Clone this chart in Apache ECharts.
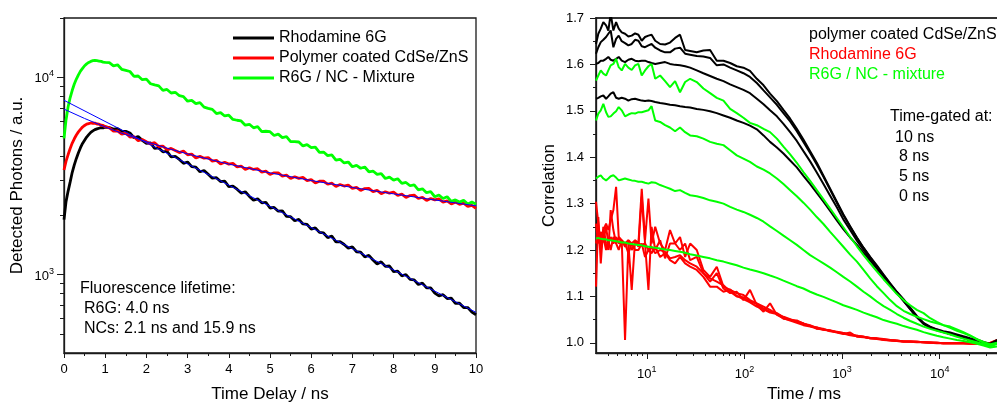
<!DOCTYPE html>
<html><head><meta charset="utf-8">
<script src="https://cdn.jsdelivr.net/npm/echarts@6/dist/echarts.min.js"></script>
<style>html,body{margin:0;padding:0;background:#fff}#c{width:997px;height:403px}</style>
</head><body><div id="c"></div>
<script>
const FONT = '"Liberation Sans", Arial, Helvetica, sans-serif';

// ---------- Left panel: fluorescence decay (counts vs ns) ----------
const decayTime = [0,0.05,0.1,0.15,0.2,0.25,0.3,0.35,0.4,0.45,0.5,0.55,0.6,0.65,0.7,0.75,0.8,0.85,0.9,0.95,1.0,
 1.1,1.2,1.3,1.4,1.5,1.6,1.7,1.8,1.9,2.0,2.1,2.2,2.3,2.4,2.5,2.6,2.7,2.8,2.9,3.0,
 3.1,3.2,3.3,3.4,3.5,3.6,3.7,3.8,3.9,4.0,4.1,4.2,4.3,4.4,4.5,4.6,4.7,4.8,4.9,5.0,
 5.1,5.2,5.3,5.4,5.5,5.6,5.7,5.8,5.9,6.0,6.1,6.2,6.3,6.4,6.5,6.6,6.7,6.8,6.9,7.0,
 7.1,7.2,7.3,7.4,7.5,7.6,7.7,7.8,7.9,8.0,8.1,8.2,8.3,8.4,8.5,8.6,8.7,8.8,8.9,9.0,
 9.1,9.2,9.3,9.4,9.5,9.6,9.7,9.8,9.9,10.0];
const rhodamine6G = [1900,2350,2650,2950,3300,3600,3880,4150,4400,4620,4800,4980,5120,5260,5350,5430,5480,5520,5560,5540,5600,
 5560,5470,5500,5330,5320,5220,4940,5010,4790,4630,4650,4360,4385,4190,4215,3950,3970,3835,3665,3720,
 3525,3505,3320,3370,3225,3080,3100,2960,2975,2790,2805,2710,2590,2630,2490,2380,2420,2310,2325,2175,
 2190,2095,2105,1970,1965,1875,1905,1805,1795,1700,1725,1635,1625,1540,1565,1465,1470,1420,1360,1380,
 1305,1300,1230,1250,1185,1130,1160,1100,1105,1035,1040,985,1000,945,940,890,905,855,855,805,
 780,790,755,760,715,715,680,680,645,625];
const polymerCdSe = [3390,3760,4060,4360,4640,4880,5100,5290,5450,5600,5700,5790,5830,5870,5850,5860,5800,5790,5720,5700,5620,
 5550,5340,5350,5155,5220,4980,5000,4770,4840,4715,4595,4665,4460,4485,4290,4360,4255,4155,4225,4050,
 4080,3905,3975,3890,3920,3760,3790,3640,3710,3630,3660,3515,3550,3410,3480,3410,3440,3310,3345,3215,
 3280,3280,3155,3190,3070,3135,3075,3110,2995,3030,2915,2975,2980,2870,2905,2795,2860,2810,2845,2735,
 2770,2670,2730,2735,2635,2670,2570,2630,2585,2615,2520,2555,2460,2515,2525,2430,2465,2375,2430,2390,
 2420,2330,2365,2280,2330,2270,2300,2215,2245,2165];
const mixture = [4900,6100,7100,7900,8600,9250,9800,10300,10750,11100,11450,11700,11900,12050,12150,12200,12150,12100,12050,11950,11900,
 11870,11430,11580,10990,10850,10710,10110,10160,9730,9790,9280,9150,9050,8590,8680,8330,8400,8070,7980,7570,
 7650,7360,7450,7060,6960,6880,6550,6620,6370,6430,6120,6060,6010,5720,5780,5550,5620,5300,5330,5300,
 5070,5150,4950,5000,4720,4720,4700,4490,4560,4400,4430,4160,4180,4010,4040,3800,3840,3680,3720,3520,
 3580,3460,3510,3320,3350,3220,3250,3070,3120,3010,3060,2900,2930,2820,2850,2690,2720,2600,2630,2480,
 2530,2430,2480,2350,2390,2330,2380,2280,2330,2270];
const fitR6GTime = [0, 10];
const fitR6G = [7650, 643];
const fitNCTime = [0,0.5,1,1.5,2,2.5,3,4,5,6,7,8,9,10];
const fitNC = [6900,6187,5602,5118,4715,4377,4089,3631,3279,2998,2765,2565,2389,2231];
const decayYRange = [400, 20000];
const decayYMajor = [1000, 10000];
const decayYMinor = [500,600,700,800,900,2000,3000,4000,5000,6000,7000,8000,9000,20000];
const decayLegend = ['Rhodamine 6G', 'Polymer coated CdSe/ZnS', 'R6G / NC - Mixture'];

// ---------- Right panel: correlation vs lag time (ms) ----------
const lagTime = [3.02,3.19,3.38,3.59,3.83,4.04,4.27,4.55,4.85,5.16,5.54,5.99,6.48,7.01,7.59,8.21,8.88,9.60,10.4,11.2,
 12.2,13.7,15.4,17.3,19.5,21.9,24.7,27.8,32.5,38.0,44.5,52.1,61.0,71.4,83.5,97.7,114,134,157,183,
 215,251,294,344,402,471,551,645,755,884,1030,1210,1420,1660,1940,2270,2660,3110,3640,4260,
 4990,5830,6830,7990,9350,10900,12800,15000,17500,20500,24000,28100,32900,38800];
const nc10ns = [1.644,1.666,1.677,1.691,1.684,1.673,1.709,1.673,1.691,1.677,1.669,1.666,1.660,1.662,1.667,1.664,1.651,1.659,1.662,1.664,
 1.651,1.644,1.643,1.647,1.657,1.664,1.631,1.629,1.626,1.630,1.631,1.608,1.608,1.603,1.596,1.593,1.586,1.569,1.555,1.537,
 1.521,1.502,1.483,1.461,1.438,1.413,1.388,1.360,1.332,1.304,1.277,1.251,1.227,1.205,1.185,1.167,1.147,1.128,1.110,1.094,
 1.076,1.058,1.043,1.035,1.029,1.025,1.022,1.018,1.014,1.010,1.007,1.002,0.998,1.006];
const nc8ns = [1.623,1.637,1.648,1.653,1.659,1.666,1.673,1.637,1.655,1.662,1.650,1.646,1.641,1.644,1.653,1.651,1.639,1.637,1.641,1.644,
 1.636,1.630,1.626,1.626,1.634,1.636,1.623,1.621,1.618,1.617,1.614,1.598,1.600,1.593,1.587,1.581,1.573,1.560,1.544,1.529,
 1.513,1.495,1.477,1.456,1.433,1.409,1.384,1.358,1.330,1.302,1.275,1.250,1.226,1.204,1.184,1.165,1.146,1.127,1.109,1.092,
 1.074,1.056,1.042,1.033,1.028,1.023,1.019,1.015,1.010,1.006,1.003,0.998,0.993,1.003];
const nc5ns = [1.601,1.603,1.608,1.608,1.612,1.616,1.610,1.608,1.612,1.616,1.608,1.605,1.610,1.612,1.608,1.607,1.608,1.608,1.605,1.603,
 1.601,1.603,1.605,1.601,1.599,1.598,1.596,1.593,1.587,1.581,1.575,1.569,1.564,1.557,1.551,1.545,1.538,1.526,1.514,1.501,
 1.488,1.472,1.454,1.435,1.413,1.391,1.367,1.342,1.317,1.292,1.266,1.243,1.220,1.200,1.181,1.162,1.144,1.125,1.107,1.091,
 1.073,1.056,1.041,1.033,1.028,1.023,1.019,1.015,1.010,1.006,1.002,0.997,0.993,1.003];
const nc0ns = [1.526,1.528,1.531,1.533,1.526,1.531,1.537,1.540,1.528,1.526,1.528,1.526,1.522,1.525,1.526,1.524,1.522,1.521,1.522,1.521,
 1.519,1.517,1.515,1.513,1.512,1.510,1.508,1.507,1.504,1.502,1.499,1.495,1.490,1.485,1.479,1.474,1.468,1.460,1.447,1.433,
 1.421,1.408,1.393,1.378,1.360,1.342,1.323,1.304,1.284,1.264,1.245,1.227,1.211,1.194,1.177,1.160,1.142,1.124,1.107,1.090,
 1.072,1.055,1.041,1.033,1.027,1.023,1.019,1.015,1.010,1.006,1.002,0.997,0.992,1.003];
const mix10ns = [1.565,1.576,1.587,1.580,1.576,1.587,1.598,1.601,1.612,1.594,1.587,1.601,1.593,1.588,1.598,1.601,1.576,1.587,1.596,1.601,
 1.569,1.576,1.564,1.551,1.564,1.540,1.562,1.569,1.562,1.548,1.538,1.528,1.522,1.504,1.495,1.485,1.474,1.469,1.461,1.454,
 1.440,1.423,1.406,1.388,1.368,1.349,1.329,1.309,1.289,1.269,1.249,1.228,1.208,1.189,1.171,1.154,1.137,1.121,1.105,1.092,
 1.081,1.071,1.064,1.053,1.045,1.038,1.032,1.026,1.021,1.015,1.008,1.002,0.997,1.000];
const mix8ns = [1.479,1.494,1.501,1.515,1.497,1.487,1.488,1.494,1.499,1.508,1.501,1.488,1.492,1.495,1.494,1.497,1.497,1.499,1.501,1.510,
 1.479,1.476,1.469,1.464,1.456,1.464,1.454,1.447,1.445,1.440,1.433,1.429,1.426,1.415,1.404,1.397,1.390,1.380,1.373,1.365,
 1.354,1.342,1.329,1.316,1.302,1.287,1.271,1.256,1.239,1.223,1.207,1.190,1.175,1.157,1.139,1.122,1.107,1.092,1.079,1.069,
 1.062,1.056,1.051,1.046,1.042,1.038,1.035,1.029,1.023,1.016,1.008,1.000,0.995,0.999];
const mix5ns = [1.354,1.358,1.361,1.354,1.350,1.354,1.359,1.361,1.356,1.350,1.352,1.354,1.352,1.350,1.349,1.347,1.347,1.345,1.343,1.346,
 1.345,1.340,1.336,1.332,1.327,1.329,1.323,1.318,1.316,1.312,1.307,1.304,1.300,1.293,1.287,1.282,1.276,1.269,1.261,1.251,
 1.241,1.231,1.221,1.211,1.200,1.189,1.180,1.171,1.162,1.152,1.142,1.132,1.121,1.110,1.100,1.089,1.079,1.071,1.062,1.054,
 1.047,1.041,1.035,1.030,1.026,1.022,1.018,1.013,1.009,1.005,1.001,0.997,0.992,0.998];
const mix0ns = [1.225,1.226,1.224,1.223,1.223,1.221,1.221,1.220,1.219,1.218,1.216,1.216,1.214,1.213,1.212,1.211,1.210,1.208,1.207,1.206,
 1.205,1.203,1.201,1.200,1.198,1.196,1.194,1.191,1.188,1.185,1.182,1.178,1.175,1.171,1.167,1.162,1.158,1.154,1.150,1.145,
 1.140,1.134,1.128,1.122,1.117,1.110,1.104,1.099,1.093,1.087,1.081,1.076,1.071,1.065,1.060,1.055,1.049,1.045,1.041,1.036,
 1.032,1.028,1.023,1.019,1.015,1.012,1.009,1.006,1.004,1.001,0.998,0.994,0.990,0.992];
const r6gA = [1.304,1.257,1.214,1.243,1.257,1.243,1.264,1.286,1.336,1.228,1.221,1.214,1.221,1.214,1.221,1.214,1.332,1.221,1.311,1.214,
 1.250,1.214,1.200,1.243,1.214,1.228,1.185,1.214,1.200,1.157,1.142,1.164,1.121,1.114,1.107,1.103,1.092,1.085,1.078,1.071,
 1.062,1.056,1.051,1.046,1.042,1.036,1.033,1.029,1.026,1.024,1.021,1.017,1.015,1.013,1.011,1.010,1.008,1.006,1.005,1.003,
 1.003,1.002,1.001,1.000,1.000,0.999,0.999,0.999,0.999,0.999,0.998,0.998,1.000,1.006];
const r6gB = [1.121,1.271,1.171,1.250,1.214,1.200,1.286,1.243,1.214,1.200,1.221,1.006,1.214,1.114,1.221,1.207,1.315,1.214,1.114,1.250,
 1.200,1.221,1.182,1.214,1.214,1.200,1.214,1.178,1.185,1.150,1.132,1.150,1.117,1.107,1.110,1.092,1.114,1.081,1.067,1.085,
 1.060,1.053,1.048,1.043,1.038,1.035,1.031,1.028,1.026,1.022,1.019,1.022,1.013,1.012,1.010,1.008,1.006,1.005,1.004,1.003,
 1.002,1.001,1.001,1.000,0.999,0.999,0.999,0.999,0.999,0.998,0.998,0.998,0.999,1.005];
const r6gC = [1.257,1.214,1.239,1.221,1.250,1.214,1.228,1.214,1.228,1.214,1.221,1.207,1.221,1.200,1.214,1.214,1.211,1.214,1.200,1.207,
 1.193,1.200,1.196,1.182,1.185,1.189,1.178,1.171,1.164,1.150,1.139,1.132,1.124,1.110,1.100,1.098,1.089,1.084,1.074,1.067,
 1.064,1.055,1.049,1.048,1.041,1.038,1.030,1.030,1.025,1.023,1.020,1.016,1.015,1.013,1.010,1.009,1.007,1.006,1.005,1.003,
 1.003,1.002,1.001,1.001,1.000,0.999,0.999,0.999,0.999,0.998,0.998,0.998,0.999,1.005];
const r6gD = [1.214,1.243,1.200,1.228,1.200,1.221,1.200,1.228,1.214,1.228,1.214,1.214,1.193,1.214,1.200,1.200,1.214,1.185,1.200,1.193,
 1.207,1.185,1.193,1.178,1.171,1.185,1.171,1.164,1.157,1.142,1.121,1.121,1.110,1.115,1.101,1.094,1.087,1.078,1.072,1.065,
 1.062,1.052,1.050,1.045,1.041,1.036,1.033,1.028,1.027,1.023,1.021,1.018,1.014,1.013,1.010,1.009,1.007,1.005,1.004,1.003,
 1.003,1.002,1.001,1.000,1.000,0.999,0.999,0.999,0.999,0.999,0.998,0.998,0.999,1.004];
const corrXRange = [3.02, 55000];
const corrYRange = [0.978, 1.7];
const corrXMajor = [10, 100, 1000, 10000];
const corrXMinor = [4,5,6,7,8,9,20,30,40,50,60,70,80,90,200,300,400,500,600,700,800,900,
 2000,3000,4000,5000,6000,7000,8000,9000,20000,30000,40000,50000];
const corrYMajor = [1.0,1.1,1.2,1.3,1.4,1.5,1.6,1.7];
const corrYMinor = [1.05,1.15,1.25,1.35,1.45,1.55,1.65];

// ---------- build ----------
const lg = Math.log10;
const pairsLogY = (xs, ys) => xs.map((x, i) => [x, lg(ys[i])]);
const pairsLogX = (xs, ys) => xs.map((x, i) => [lg(x), ys[i]]);
const AX = '#1a1a1a';
const pow10 = v => '{b|10}{s|' + Math.round(v) + '}';
const powRich = {
  b: {fontFamily: FONT, fontSize: 13, color: '#000', lineHeight: 16, verticalAlign: 'bottom'},
  s: {fontFamily: FONT, fontSize: 9, color: '#000', lineHeight: 16, verticalAlign: 'top', padding: [0, 0, 6, 0]}
};

function lineSeries(name, data, color, width, xi, yi, z) {
  return {type: 'line', name, data, xAxisIndex: xi, yAxisIndex: yi, symbol: 'none', showSymbol: false,
    lineStyle: {color, width}, itemStyle: {color}, z: z || 2, silent: true, animation: false};
}

const option = {
  animation: false,
  backgroundColor: '#fff',
  textStyle: {fontFamily: FONT},
  grid: [
    {left: 64, right: 521, top: 18, bottom: 50, show: true, borderColor: AX, borderWidth: 1.3, backgroundColor: 'transparent', outerBoundsMode: 'none', containLabel: false},
    {left: 596, right: -15, top: 18, bottom: 50, show: true, borderColor: '#333', borderWidth: 1.8, backgroundColor: 'transparent', outerBoundsMode: 'none', containLabel: false}
  ],
  legend: {
    data: decayLegend, orient: 'vertical', left: 233, top: 30, padding: 0,
    icon: 'rect', itemWidth: 41, itemHeight: 3, itemGap: 4,
    textStyle: {fontFamily: FONT, fontSize: 16, color: '#000', lineHeight: 16, padding: [0, 0, 0, 0]},
    selectedMode: false
  },
  xAxis: [
    {gridIndex: 0, type: 'value', min: 0, max: 10, interval: 1, position: 'bottom',
     axisLine: {lineStyle: {color: AX, width: 1.3}}, splitLine: {show: false},
     axisTick: {length: 5, lineStyle: {color: AX}}, minorTick: {show: true, splitNumber: 2, length: 3, lineStyle: {color: AX}},
     axisLabel: {fontFamily: FONT, fontSize: 13, color: '#000', margin: 10},
     name: 'Time Delay / ns', nameLocation: 'middle', nameGap: 33, nameMoveOverlap: false,
     nameTextStyle: {fontFamily: FONT, fontSize: 17, color: '#000'}},
    {gridIndex: 1, type: 'value', min: lg(corrXRange[0]), max: lg(corrXRange[1]), position: 'bottom', offset: 0,
     axisLine: {lineStyle: {color: AX, width: 1.3}}, splitLine: {show: false},
     axisTick: {length: 6, customValues: corrXMajor.map(lg), lineStyle: {color: AX}},
     axisLabel: {customValues: corrXMajor.map(lg), formatter: pow10, rich: powRich, margin: 12},
     name: 'Time / ms', nameLocation: 'middle', nameGap: 33, nameMoveOverlap: false,
     nameTextStyle: {fontFamily: FONT, fontSize: 17, color: '#000'}},
    {gridIndex: 1, type: 'value', min: lg(corrXRange[0]), max: lg(corrXRange[1]), position: 'bottom', offset: 0,
     axisLine: {show: false}, splitLine: {show: false}, axisLabel: {show: false},
     axisTick: {length: 3, customValues: corrXMinor.map(lg), lineStyle: {color: AX}}}
  ],
  yAxis: [
    {gridIndex: 0, type: 'value', min: lg(decayYRange[0]), max: lg(decayYRange[1]), position: 'left', offset: 0,
     axisLine: {show: true, lineStyle: {color: AX, width: 1.3}}, splitLine: {show: false},
     axisTick: {show: true, length: 7, customValues: decayYMajor.map(lg), lineStyle: {color: AX}},
     axisLabel: {customValues: decayYMajor.map(lg), formatter: pow10, rich: powRich, margin: 10},
     name: 'Detected Photons / a.u.', nameLocation: 'middle', nameGap: 38, nameMoveOverlap: false,
     nameTextStyle: {fontFamily: FONT, fontSize: 17, color: '#000'}},
    {gridIndex: 0, type: 'value', min: lg(decayYRange[0]), max: lg(decayYRange[1]), position: 'left', offset: 0,
     axisLine: {show: false}, splitLine: {show: false}, axisLabel: {show: false},
     axisTick: {show: true, length: 4, customValues: decayYMinor.map(lg), lineStyle: {color: AX}}},
    {gridIndex: 1, type: 'value', min: corrYRange[0], max: corrYRange[1], position: 'left', offset: 0,
     axisLine: {show: true, lineStyle: {color: AX, width: 1.3}}, splitLine: {show: false},
     axisTick: {show: true, length: 6, customValues: corrYMajor, lineStyle: {color: AX}},
     axisLabel: {customValues: corrYMajor, formatter: v => v.toFixed(1), fontFamily: FONT, fontSize: 13, color: '#000', margin: 12},
     name: 'Correlation', nameLocation: 'middle', nameGap: 38, nameMoveOverlap: false,
     nameTextStyle: {fontFamily: FONT, fontSize: 17, color: '#000'}},
    {gridIndex: 1, type: 'value', min: corrYRange[0], max: corrYRange[1], position: 'left', offset: 0,
     axisLine: {show: false}, splitLine: {show: false}, axisLabel: {show: false},
     axisTick: {show: true, length: 3, customValues: corrYMinor, lineStyle: {color: AX}}}
  ],
  graphic: [
    {type: 'text', x: 80, y: 289, style: {text: 'Fluorescence lifetime:', fontFamily: FONT, fontSize: 16, fill: '#000', verticalAlign: 'middle'}},
    {type: 'text', x: 84, y: 309, style: {text: 'R6G: 4.0 ns', fontFamily: FONT, fontSize: 16, fill: '#000', verticalAlign: 'middle'}},
    {type: 'text', x: 84, y: 329, style: {text: 'NCs: 2.1 ns and 15.9 ns', fontFamily: FONT, fontSize: 16, fill: '#000', verticalAlign: 'middle'}},
    {type: 'text', x: 809, y: 35, style: {text: 'polymer coated CdSe/ZnS', fontFamily: FONT, fontSize: 16, fill: '#000', verticalAlign: 'middle'}},
    {type: 'text', x: 809, y: 55, style: {text: 'Rhodamine 6G', fontFamily: FONT, fontSize: 16, fill: '#ff0000', verticalAlign: 'middle'}},
    {type: 'text', x: 809, y: 75, style: {text: 'R6G / NC - mixture', fontFamily: FONT, fontSize: 16, fill: '#00ff00', verticalAlign: 'middle'}},
    {type: 'text', x: 890, y: 117, style: {text: 'Time-gated at:', fontFamily: FONT, fontSize: 16, fill: '#000', verticalAlign: 'middle'}},
    {type: 'text', x: 895, y: 138, style: {text: '10 ns', fontFamily: FONT, fontSize: 16, fill: '#000', verticalAlign: 'middle'}},
    {type: 'text', x: 899, y: 157, style: {text: '8 ns', fontFamily: FONT, fontSize: 16, fill: '#000', verticalAlign: 'middle'}},
    {type: 'text', x: 899, y: 177, style: {text: '5 ns', fontFamily: FONT, fontSize: 16, fill: '#000', verticalAlign: 'middle'}},
    {type: 'text', x: 899, y: 197, style: {text: '0 ns', fontFamily: FONT, fontSize: 16, fill: '#000', verticalAlign: 'middle'}}
  ],
  series: [
    lineSeries(decayLegend[0], pairsLogY(decayTime, rhodamine6G), '#000000', 2.8, 0, 0, 2),
    lineSeries(decayLegend[1], pairsLogY(decayTime, polymerCdSe), '#ff0000', 2.8, 0, 0, 3),
    lineSeries(decayLegend[2], pairsLogY(decayTime, mixture), '#00ff00', 2.8, 0, 0, 4),
    lineSeries('fit R6G', pairsLogY(fitR6GTime, fitR6G), '#0000ff', 1, 0, 0, 5),
    lineSeries('fit NC', pairsLogY(fitNCTime, fitNC), '#0000ff', 1, 0, 0, 5),

    lineSeries('R6G a', pairsLogX(lagTime, r6gA), '#ff0000', 2, 1, 2, 2),
    lineSeries('R6G b', pairsLogX(lagTime, r6gB), '#ff0000', 2, 1, 2, 2),
    lineSeries('R6G c', pairsLogX(lagTime, r6gC), '#ff0000', 2, 1, 2, 2),
    lineSeries('R6G d', pairsLogX(lagTime, r6gD), '#ff0000', 2, 1, 2, 2),
    lineSeries('NC 10 ns', pairsLogX(lagTime, nc10ns), '#000000', 2, 1, 2, 3),
    lineSeries('NC 8 ns', pairsLogX(lagTime, nc8ns), '#000000', 2, 1, 2, 3),
    lineSeries('NC 5 ns', pairsLogX(lagTime, nc5ns), '#000000', 2, 1, 2, 3),
    lineSeries('NC 0 ns', pairsLogX(lagTime, nc0ns), '#000000', 2, 1, 2, 3),
    lineSeries('Mix 10 ns', pairsLogX(lagTime, mix10ns), '#00ff00', 2, 1, 2, 4),
    lineSeries('Mix 8 ns', pairsLogX(lagTime, mix8ns), '#00ff00', 2, 1, 2, 4),
    lineSeries('Mix 5 ns', pairsLogX(lagTime, mix5ns), '#00ff00', 2, 1, 2, 4),
    lineSeries('Mix 0 ns', pairsLogX(lagTime, mix0ns), '#00ff00', 2, 1, 2, 4)
  ]
};

const chart = echarts.init(document.getElementById('c'), null, {renderer: 'canvas'});
chart.setOption(option);
</script>
</body></html>
